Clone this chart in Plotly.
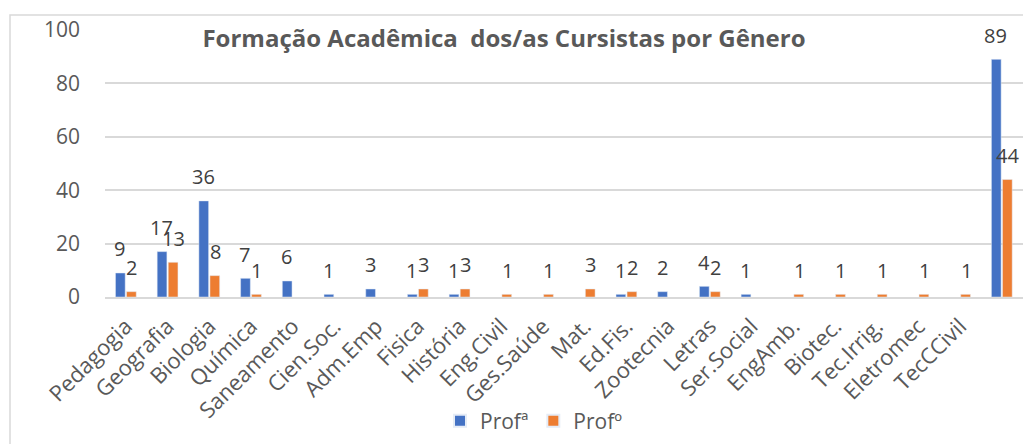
import plotly.graph_objects as go

categories = ["Pedagogia", "Geografia", "Biologia", "Química", "Saneamento", "Cien.Soc.",
              "Adm.Emp", "Fisica", "História", "Eng.Civil", "Ges.Saúde", "Mat.", "Ed.Fis.",
              "Zootecnia", "Letras", "Ser.Social", "EngAmb.", "Biotec.", "Tec.Irrig.",
              "Eletromec", "TecCCivil", ""]
profa = [9, 17, 36, 7, 6, 1, 3, 1, 1, 0, 0, 0, 1, 2, 4, 1, 0, 0, 0, 0, 0, 89]
profo = [2, 13, 8, 1, 0, 0, 0, 3, 3, 1, 1, 3, 2, 0, 2, 0, 1, 1, 1, 1, 1, 44]
y_ticks = [0, 20, 40, 60, 80, 100]
title_text = "Formação Acadêmica \u00a0dos/as Cursistas por Gênero"

BLUE = "#4472C4"
ORANGE = "#ED7D31"
FONT = "Open Sans"
TXT = "#595959"

# the page body has an 8px margin; layout below is offset to compensate
OFF = 8
W, H = 1031 - OFF, 444 - OFF

xs = list(range(len(categories)))

fig = go.Figure()
fig.add_trace(go.Bar(name="Profª", x=xs, y=[v if v else None for v in profa],
                     marker_color=BLUE))
fig.add_trace(go.Bar(name="Profº", x=xs, y=[v if v else None for v in profo],
                     marker_color=ORANGE))

annotations = []
for series, shift in ((profa, -6), (profo, 6)):
    for i, v in enumerate(series):
        if v:
            annotations.append(dict(x=i, y=v, xref="x", yref="y", text=str(v),
                                    showarrow=False, xshift=shift, yshift=24,
                                    font=dict(family=FONT, size=20, color="#404040")))

fig.update_layout(
    width=W, height=H,
    margin=dict(l=105 - OFF, r=0, t=30 - OFF, b=147, autoexpand=False),
    paper_bgcolor="white", plot_bgcolor="white",
    barmode="group", bargap=0.47, bargroupgap=0.12,
    font=dict(family=FONT, size=19, color=TXT),
    title=dict(text="<b>" + title_text + "</b>", x=(504 - OFF) / W, xanchor="center",
               y=1 - (39 - OFF) / H, yanchor="middle",
               font=dict(family=FONT, size=24, color=TXT)),
    xaxis=dict(tickmode="array", tickvals=xs, ticktext=categories, tickangle=-45,
               range=[-0.5, 21.7], showgrid=False, showline=True, linecolor="#D9D9D9",
               linewidth=1.5, ticks="", ticklabelstandoff=6,
               tickfont=dict(family=FONT, size=22, color=TXT)),
    yaxis=dict(range=[0, 100], tickvals=y_ticks, showgrid=True, gridcolor="#D9D9D9",
               gridwidth=1.5, zeroline=False, showline=False, ticks="", ticklen=0,
               ticklabelstandoff=24,
               tickfont=dict(family=FONT, size=21, color=TXT)),
    legend=dict(orientation="h", x=(534 - 105) / 926, xanchor="center",
                y=(297 - 421) / 267, yanchor="middle",
                font=dict(family=FONT, size=21, color=TXT), itemsizing="constant"),
    annotations=annotations,
    shapes=[dict(type="rect", xref="paper", yref="paper",
                 x0=(10 - 105) / 926, x1=1.05, y0=-0.6, y1=1 + 15 / 267,
                 line=dict(color="#D9D9D9", width=1.5), layer="below")],
)
fig.write_html("out.html")
